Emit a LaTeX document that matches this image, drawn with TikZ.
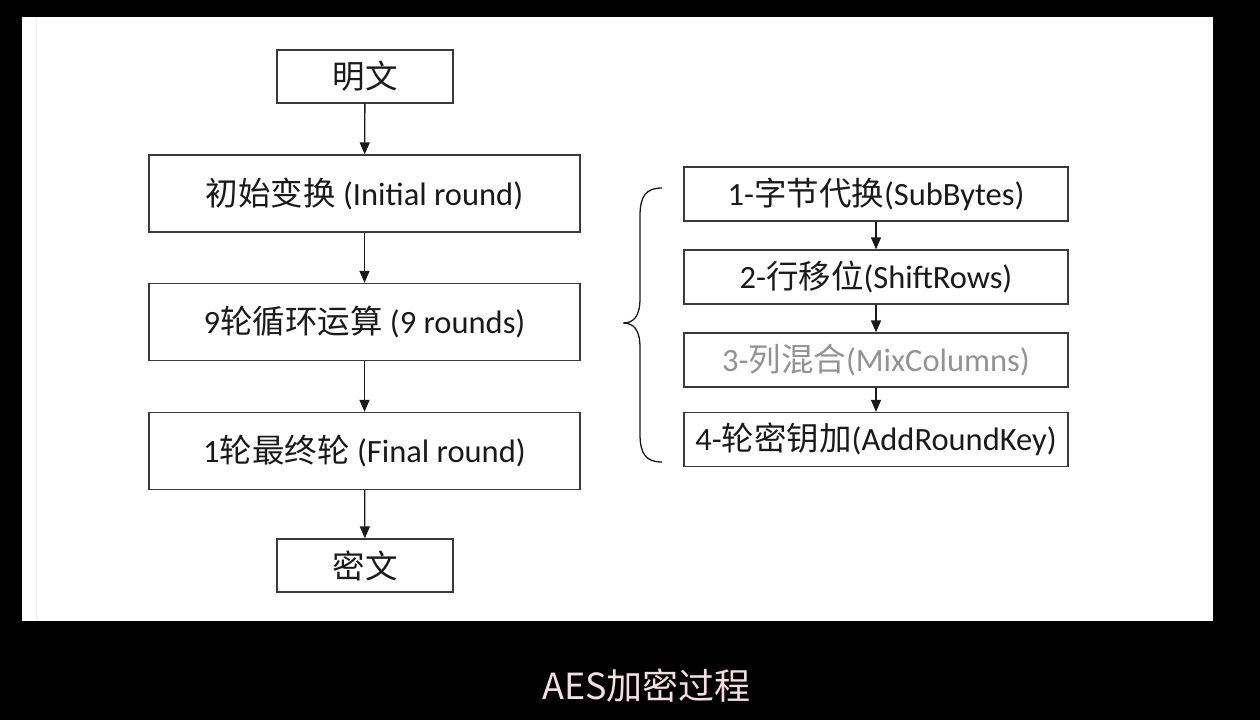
\documentclass[tikz,border=0pt]{standalone}
\usepackage{fontspec}
\setmainfont{Carlito}
\newfontfamily\cjk{Noto Sans CJK SC}
\usetikzlibrary{arrows.meta}
\definecolor{boxline}{HTML}{3A3A3A}
\definecolor{txt}{HTML}{1A1A1A}
\definecolor{captioncol}{HTML}{F6DDE4}
\tikzset{
  mainbox/.style={draw=boxline, line width=1.3pt, fill=white, minimum width=431pt, minimum height=77pt, inner sep=0pt, text=txt, font=\fontsize{32.5}{36}\selectfont},
  endbox/.style={mainbox, minimum width=176pt, minimum height=53pt},
  subbox/.style={mainbox, minimum width=384pt, minimum height=54pt, font=\fontsize{32.5}{36}\selectfont},
  arr/.style={draw=txt, line width=1.3pt, -{Triangle[length=12pt,width=10pt]}},
}
\begin{document}
\begin{tikzpicture}[x=1pt,y=-1pt]
\useasboundingbox (0,0) rectangle (1260,720);
\fill[black] (0,0) rectangle (1260,720);
\fill[white] (22,17) rectangle (1213,621);
\draw[gray!12, line width=1pt] (36,18) -- (36,620);

\node[endbox] (pt) at (365,76.5) {{\cjk 明文}};
\node[mainbox] (init) at (364.5,193.5) {{\cjk 初始变换} (Initial round)};
\node[mainbox] (nine) at (364.5,322) {9{\cjk 轮循环运算} (9 rounds)};
\node[mainbox] (final) at (364.5,451) {1{\cjk 轮最终轮} (Final round)};
\node[endbox] (ct) at (365,565.5) {{\cjk 密文}};

\draw[arr] (pt) -- (init);
\draw[arr] (init) -- (nine);
\draw[arr] (nine) -- (final);
\draw[arr] (final) -- (ct);

\node[subbox] (s1) at (876,194) {1-{\cjk 字节代换}(SubBytes)};
\node[subbox] (s2) at (876,277) {2-{\cjk 行移位}(ShiftRows)};
\node[subbox, text=gray!85] (s3) at (876,360) {3-{\cjk 列混合}(MixColumns)};
\node[subbox] (s4) at (876,439.5) {4-{\cjk 轮密钥加}(AddRoundKey)};

\draw[arr] (s1) -- (s2);
\draw[arr] (s2) -- (s3);
\draw[arr] (s3) -- (s4);

\coordinate (btop) at (662,188);
\coordinate (bbot) at (662,462);
\coordinate (btip) at (623,323);
\draw[txt, line width=1.3pt] (btop) .. controls (646,188) and (640,196) .. (640,216)
  -- (640,298) .. controls (640,316) and (634,323) .. (btip)
  .. controls (634,323) and (640,330) .. (640,348)
  -- (640,434) .. controls (640,454) and (646,462) .. (bbot);

\node[text=captioncol, font=\cjk\fontsize{36}{40}\selectfont] (cap) at (646.5,686) {AES加密过程};
\end{tikzpicture}
\end{document}
